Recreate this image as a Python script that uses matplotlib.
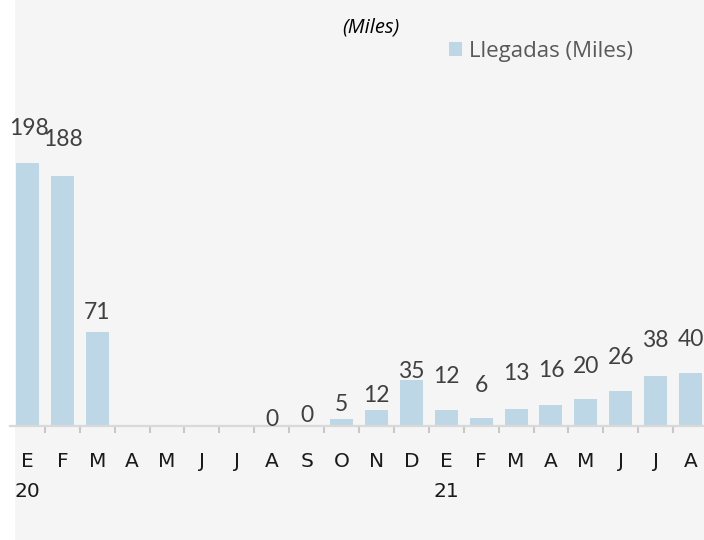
import matplotlib
matplotlib.use("Agg")
import matplotlib.pyplot as plt
import numpy as np
from matplotlib.patches import Rectangle

months = ["E", "F", "M", "A", "M", "J", "J", "A", "S", "O", "N", "D",
          "E", "F", "M", "A", "M", "J", "J", "A"]
years = {0: "20", 12: "21"}
llegadas = [198, 188, 71, np.nan, np.nan, np.nan, np.nan, 0, 0, 5, 12, 35,
            12, 6, 13, 16, 20, 26, 38, 40]
series_name = "Llegadas (Miles)"
title = "(Miles)"

# label placement (pixels above bar top), styling only
label_gap = [34.5, 36.5, 19, 0, 0, 0, 0, 6, 11, 15, 14.5, 8.5,
             34, 33, 35, 34, 33, 34, 35, 33]
label_dx = [2, 1] + [0] * 18

W, H = 704, 540
FONT = "Lato"
BG = "#f5f5f5"
BAR = "#bdd7e6"

fig = plt.figure(figsize=(W / 100, H / 100), dpi=100, facecolor="white")
fig.patches.append(Rectangle((15 / W, 0), 1, 1, transform=fig.transFigure,
                             facecolor=BG, edgecolor="none", zorder=-10))

base_px = 426
top_px = 100
ax = fig.add_axes([10 / W, (H - base_px) / H, 698 / W, (base_px - top_px) / H])
ax.set_facecolor("none")

x = np.arange(len(months))
vals = np.array(llegadas, dtype=float)
ax.bar(x, vals, width=0.66, color=BAR, zorder=2)
ax.set_xlim(-0.5, len(months) - 0.5)
ax.set_ylim(0, (base_px - top_px) / 1.328)

for i, v in enumerate(vals):
    if np.isnan(v):
        continue
    ax.annotate(f"{int(v)}", xy=(x[i], v), xytext=(label_dx[i], label_gap[i]),
                textcoords="offset pixels", ha="center", va="center",
                fontsize=16.5, family=FONT, color="#404040")

for s in ["top", "right", "left"]:
    ax.spines[s].set_visible(False)
ax.spines["bottom"].set_color("#d9d9d9")
ax.spines["bottom"].set_linewidth(1.6)
ax.set_yticks([])

labels = [m + ("\n" + years[i] if i in years else "") for i, m in enumerate(months)]
ax.set_xticks(x)
ax.set_xticklabels(labels, fontsize=14.5, family="DejaVu Sans", color="#1a1a1a",
                   linespacing=1.68)
ax.tick_params(axis="x", which="major", length=0, pad=19)
ax.set_xticks(x[:-1] + 0.5, minor=True)
ax.tick_params(axis="x", which="minor", length=5.2, width=1.5, color="#c8c8c8")

fig.text(371 / W, 1 - 28 / H, title, ha="center", va="center",
         fontsize=14.5, family="Open Sans", style="italic", color="#000000")

handle = Rectangle((0, 0), 1, 1, facecolor=BAR, edgecolor="none")
fig.legend([handle], [series_name], loc="center left",
           bbox_to_anchor=(449 / W, 1 - 51 / H), frameon=False,
           handlelength=0.6, handleheight=0.6, handletextpad=0.28,
           borderpad=0, borderaxespad=0,
           prop={"family": "Open Sans", "size": 16}, labelcolor="#595959")

fig.savefig("out.png", dpi=100, facecolor=fig.get_facecolor())
